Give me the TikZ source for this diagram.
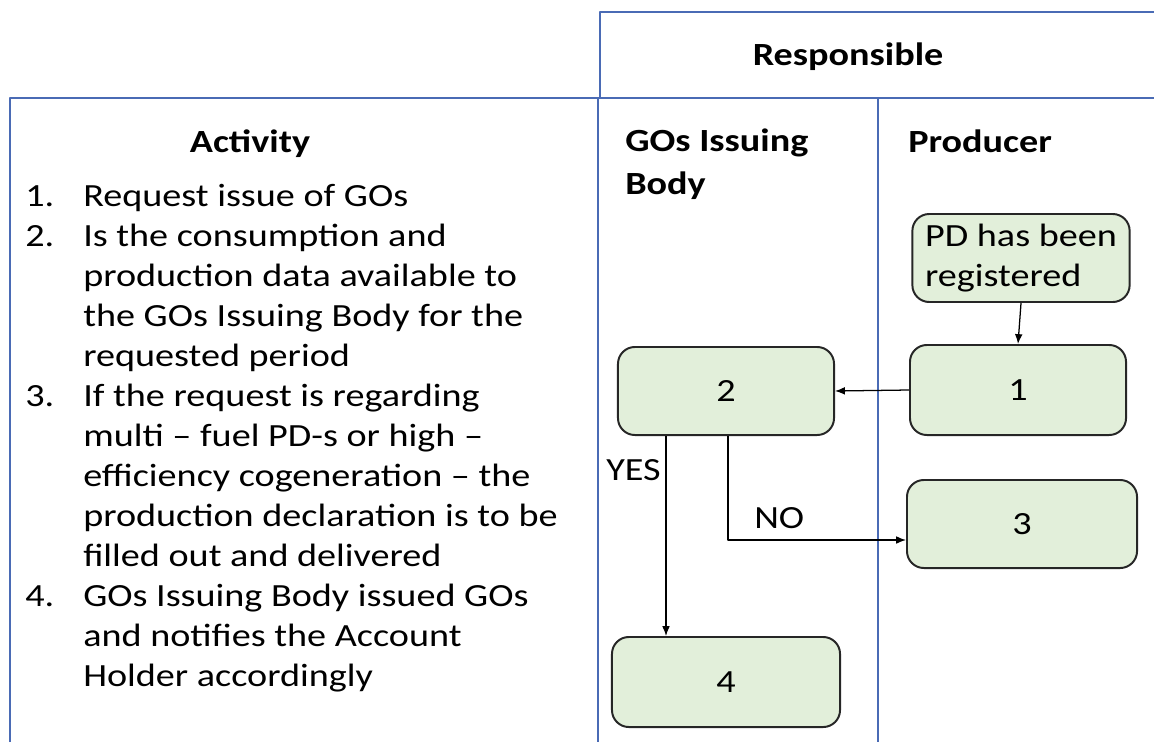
\documentclass[tikz,border=0pt]{standalone}
\usepackage{fontspec}
\setmainfont{Carlito}[FakeStretch=1.18]
\usetikzlibrary{arrows.meta}
\definecolor{boxgreen}{HTML}{E2EFDA}
\definecolor{laneblue}{HTML}{4A6BB5}
\begin{document}
\begin{tikzpicture}[x=0.025cm,y=-0.025cm,>={Latex[length=7pt,width=5.5pt]},line join=round,
		font=\fontsize{23}{28.45}\selectfont,
		lane/.style={draw=laneblue,line width=1.1pt},
		head/.style={font=\fontsize{23}{28.45}\selectfont\bfseries,inner sep=0pt},
		stepbox/.style={draw=black!85,fill=boxgreen,rounded corners=12pt,line width=1.4pt,inner sep=0pt},
		flow/.style={->,line width=0.9pt}]
		\useasboundingbox (0,0) rectangle (1154,742);
		% table lines
		\draw[lane] (600,98) -- (600,12) -- (1154,12);
		\draw[lane] (10,742) -- (10,98) -- (1154,98);
		\draw[lane] (598,98) -- (598,742);
		\draw[lane] (878,98) -- (878,742);
		% headings
		\node[head,anchor=base] (resp) at (848,65) {Responsible};
		\node[head,anchor=base] (act) at (250,152) {Activity};
		\node[head,anchor=base west,align=left] (gib) at (625,194) {GOs Issuing\\[1.5pt]Body};
		\node[head,anchor=base west] (prod) at (908,152) {Producer};
		% activity list
		\node[anchor=base west,inner sep=0pt] (list) at (25,206) {\begin{tabular}[t]{@{}p{1.45cm}@{}l@{}}
				1. & Request issue of GOs\\
				2. & Is the consumption and\\
				& production data available to\\
				& the GOs Issuing Body for the\\
				& requested period\\
				3. & If the request is regarding\\
				& multi -- fuel PD-s or high --\\
				& efficiency cogeneration -- the\\
				& production declaration is to be\\
				& filled out and delivered\\
				4. & GOs Issuing Body issued GOs\\
				& and notifies the Account\\
				& Holder accordingly
			\end{tabular}};
		% steps
		\node[stepbox,minimum width=5.43cm,minimum height=2.2cm,align=left] (pd) at (1021,258) {PD has been\\registered};
		\node[stepbox,minimum width=5.4cm,minimum height=2.25cm] (s1) at (1018,390) {1};
		\node[stepbox,minimum width=5.4cm,minimum height=2.2cm] (s2) at (726,391) {2};
		\node[stepbox,minimum width=5.75cm,minimum height=2.2cm] (s3) at (1022,524) {3};
		\node[stepbox,minimum width=5.7cm,minimum height=2.25cm] (s4) at (726,682) {4};
		\coordinate (yesx) at (666,0);
		\coordinate (nox) at (728,540);
		\draw[flow] (pd.south) -- (s1.north);
		\draw[flow] (s1.west) -- (s2.east);
		\draw[flow] (yesx |- s2.south) -- (yesx |- s4.north);
		\draw[flow] (nox |- s2.south) |- (s3.west |- nox);
		\node[anchor=base east,inner sep=0pt] (yes) at (661,480) {YES};
		\node[anchor=base west,inner sep=0pt] (no) at (754,528) {NO};
	\end{tikzpicture}
\end{document}
